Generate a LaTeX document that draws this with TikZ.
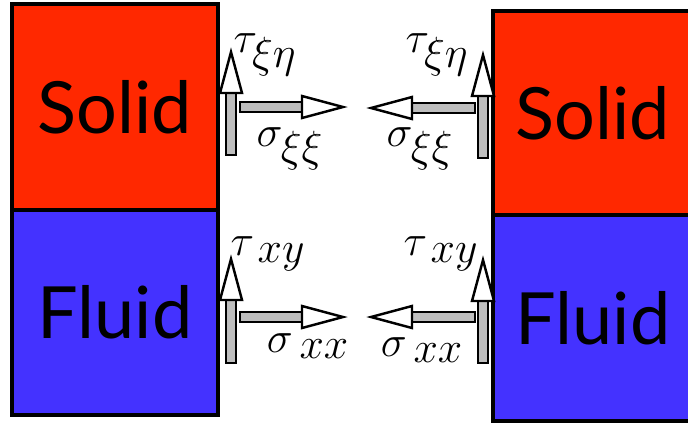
\documentclass[tikz,border=0pt]{standalone}
\usepackage{fontspec}
\usepackage{tikz}
\usetikzlibrary{calc}
\newfontfamily\blockfont{Lato}
\definecolor{solidred}{RGB}{255,40,0}
\definecolor{fluidblue}{RGB}{68,50,255}
\definecolor{shaftgray}{RGB}{190,190,190}
% hollow stress arrow: grey shaft, white head; #1 tail, #2 tip
\newcommand{\stressarrow}[2]{%
  \coordinate (hb) at ($(#2)!0.82cm!(#1)$);
  \filldraw[shaft] ($(#1)!0.1cm!90:(#2)$) -- ($(hb)!0.1cm!90:(#2)$)
    -- ($(hb)!0.1cm!-90:(#2)$) -- ($(#1)!0.1cm!-90:(#2)$) -- cycle;
  \filldraw[head] ($(hb)!0.22cm!90:(#2)$) -- (#2) -- ($(hb)!0.22cm!-90:(#2)$) -- cycle;
}

\begin{document}
\begin{tikzpicture}[x=0.02cm, y=-0.02cm,
  block/.style={draw=black, line width=2.1pt, inner sep=0pt,
    font=\blockfont\fontsize{41}{48}\selectfont, text=black},
  shaft/.style={fill=shaftgray, draw=black, line width=1.4pt},
  head/.style={fill=white, draw=black, line width=1.4pt, line join=miter},
  lbl/.style={inner sep=0pt, font=\fontsize{24}{28}\selectfont}]
  \useasboundingbox (0,0) rectangle (688,424);
  % left column
  \node[block, fill=solidred, minimum width=4.12cm, minimum height=4.12cm] (solidL) at (115,107) {Solid};
  \node[block, fill=fluidblue, minimum width=4.12cm, minimum height=4.10cm] (fluidL) at (115,312.5) {Fluid};
  % right column
  \node[block, fill=solidred, minimum width=4.00cm, minimum height=4.08cm] (solidR) at (593,113) {Solid};
  \node[block, fill=fluidblue, minimum width=4.00cm, minimum height=4.12cm] (fluidR) at (593,318) {Fluid};
  % arrow end points
  \coordinate (tauSLa) at (231,155); \coordinate (tauSLb) at (231,52);
  \coordinate (sigSLa) at (240,107); \coordinate (sigSLb) at (343,107);
  \coordinate (tauSRa) at (483,158); \coordinate (tauSRb) at (483,55);
  \coordinate (sigSRa) at (475,108); \coordinate (sigSRb) at (371,108);
  \coordinate (tauFLa) at (231,363); \coordinate (tauFLb) at (231,259);
  \coordinate (sigFLa) at (240,317); \coordinate (sigFLb) at (343,317);
  \coordinate (tauFRa) at (483,363); \coordinate (tauFRb) at (483,260);
  \coordinate (sigFRa) at (475,317); \coordinate (sigFRb) at (371,317);
  \stressarrow{tauSLa}{tauSLb} \stressarrow{sigSLa}{sigSLb}
  \stressarrow{tauSRa}{tauSRb} \stressarrow{sigSRa}{sigSRb}
  \stressarrow{tauFLa}{tauFLb} \stressarrow{sigFLa}{sigFLb}
  \stressarrow{tauFRa}{tauFRb} \stressarrow{sigFRa}{sigFRb}
  % labels
  \node[lbl] (tauSL) at (265,55)  {$\tau_{\textstyle\xi\eta}$};
  \node[lbl] (sigSL) at (290,149) {$\sigma_{\textstyle\xi\xi}$};
  \node[lbl] (tauSR) at (437,55)  {$\tau_{\textstyle\xi\eta}$};
  \node[lbl] (sigSR) at (420,149) {$\sigma_{\textstyle\xi\xi}$};
  \node[lbl] (tauFL) at (268,254) {$\tau_{\;\textstyle xy}$};
  \node[lbl] (sigFL) at (308,346) {$\sigma_{\;\textstyle xx}$};
  \node[lbl] (tauFR) at (441,254) {$\tau_{\;\textstyle xy}$};
  \node[lbl] (sigFR) at (422,350) {$\sigma_{\;\textstyle xx}$};
\end{tikzpicture}
\end{document}
